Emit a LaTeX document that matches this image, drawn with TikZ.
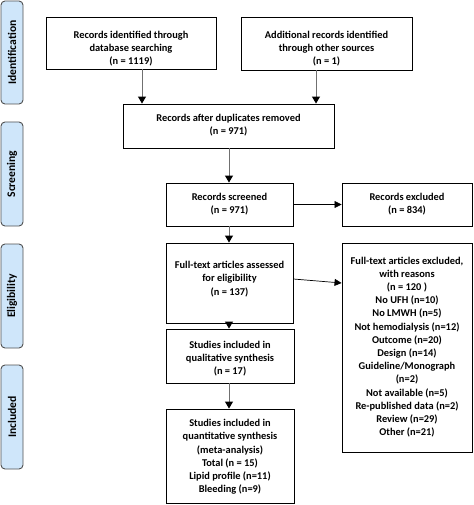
\documentclass[tikz,border=0pt]{standalone}
\usepackage{fontspec}
\setmainfont{Carlito}
\usetikzlibrary{arrows.meta}
\definecolor{barfill}{HTML}{CFE6FA}
\definecolor{barline}{HTML}{505050}
\definecolor{arrline}{HTML}{707070}
\tikzset{
  box/.style={draw=black, line width=0.9pt, fill=white, inner sep=0pt},
  txt/.style={align=center, inner sep=0pt, font=\fontsize{10.4}{13.2}\selectfont\bfseries},
  bar/.style={draw=barline, fill=barfill, line width=0.9pt, rounded corners=4pt},
  barlabel/.style={rotate=90, font=\fontsize{11.6}{13}\selectfont\bfseries},
  arr/.style={draw=arrline, line width=1pt, -{Triangle[length=7pt,width=8pt,color=black,fill=black]}},
  thinarr/.style={draw=black, line width=0.7pt, -{Triangle[length=7pt,width=7pt,color=black,fill=black]}}
}
\begin{document}
\begin{tikzpicture}[x=1pt,y=-1pt]
\useasboundingbox (0,0) rectangle (473,505);
% side bars
\draw[bar] (1,1) rectangle (23,104);
\node[barlabel] (lid) at (12,52.5) {Identification};
\draw[bar] (1,122) rectangle (23,226);
\node[barlabel] (lsc) at (12,174) {Screening};
\draw[bar] (1,244) rectangle (23,348);
\node[barlabel] (lel) at (12,296) {Eligibility};
\draw[bar] (1,365) rectangle (23,469);
\node[barlabel] (lin) at (12,417) {Included};
% boxes
\node[box, minimum width=170pt, minimum height=52pt] (b1) at (131,43) {};
\node[txt] (t1) at (131,48.5) {Records identified through\\database searching\\(n = 1119)};
\node[box, minimum width=171pt, minimum height=53pt] (b2) at (326.5,43.5) {};
\node[txt] (t2) at (326.5,48.5) {Additional records identified\\through other sources\\(n = 1)};
\node[box, minimum width=211pt, minimum height=44pt] (b3) at (228.5,126) {};
\node[txt] (t3) at (228.5,125.5) {Records after duplicates removed\\(n = 971)};
\node[box, minimum width=127pt, minimum height=43pt] (b4) at (229.5,204.5) {};
\node[txt] (t4) at (229.5,204) {Records screened\\(n = 971)};
\node[box, minimum width=130pt, minimum height=43pt] (b5) at (407,204.5) {};
\node[txt] (t5) at (407,204) {Records excluded\\(n = 834)};
\node[box, minimum width=127pt, minimum height=80pt] (b6) at (229.5,283) {};
\node[txt] (t6) at (229.5,279) {Full-text articles assessed\\for eligibility\\(n = 137)};
\node[box, minimum width=130pt, minimum height=209pt] (b7) at (407,347.5) {};
\node[txt] (t7) at (407,347) {Full-text articles excluded,\\with reasons\\(n = 120 )\\No UFH (n=10)\\No LMWH (n=5)\\Not hemodialysis (n=12)\\Outcome (n=20)\\Design (n=14)\\Guideline/Monograph\\(n=2)\\Not available (n=5)\\Re-published data (n=2)\\Review (n=29)\\Other (n=21)};
\node[box, minimum width=128pt, minimum height=54pt] (b8) at (230,356) {};
\node[txt] (t8) at (230,358.5) {Studies included in\\qualitative synthesis\\(n = 17)};
\node[box, minimum width=128pt, minimum height=94pt] (b9) at (230,456) {};
\node[txt] (t9) at (230,457) {Studies included in\\quantitative synthesis\\(meta-analysis)\\Total (n = 15)\\Lipid profile (n=11)\\Bleeding (n=9)};
% connectors
\coordinate (c1) at (142,0);
\coordinate (c2) at (316,0);
\coordinate (cm) at (229,0);
\draw[arr] (b1.south -| c1) -- (b3.north -| c1);
\draw[arr] (b2.south -| c2) -- (b3.north -| c2);
\draw[arr] (b3.south -| cm) -- (b4.north -| cm);
\draw[arr] (b4.south -| cm) -- (b6.north -| cm);
\draw[arr] (b6.south -| cm) -- (b8.north -| cm);
\draw[arr] (b8.south -| cm) -- (b9.north -| cm);
\draw[thinarr] (b4.east) -- (b5.west);
\coordinate (e1) at (293,279);
\coordinate (e2) at (342,283);
\draw[thinarr] (b6.east |- e1) -- (b7.west |- e2);
\end{tikzpicture}
\end{document}
